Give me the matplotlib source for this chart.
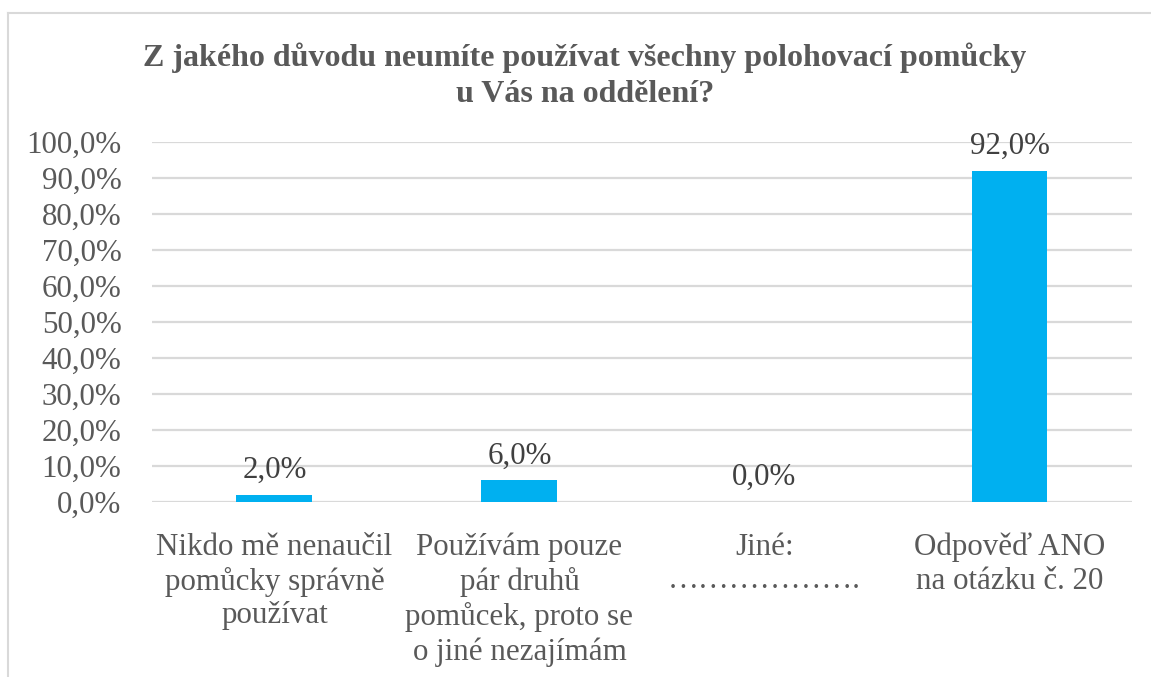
import matplotlib
matplotlib.use("Agg")
import matplotlib.pyplot as plt
from matplotlib.lines import Line2D
import numpy as np

# data
categories = [
    "Nikdo mě nenaučil\npomůcky správně\npoužívat",
    "Používám pouze\npár druhů\npomůcek, proto se\no jiné nezajímám",
    "Jiné:\n……………….",
    "Odpověď ANO\nna otázku č. 20",
]
values = [2.0, 6.0, 0.0, 92.0]
yticks = [0, 10, 20, 30, 40, 50, 60, 70, 80, 90, 100]
title = "Z jakého důvodu neumíte používat všechny polohovací pomůcky\nu Vás na oddělení?"

text_col = "#595959"
bar_col = "#00B0F0"
grid_col = "#D9D9D9"
fs = 22.3

plt.rcParams["font.family"] = ["Liberation Serif", "DejaVu Serif"]

fig = plt.figure(figsize=(11.51, 6.77), dpi=100)
ax = fig.add_axes([0.132, 0.2585, 0.8515, 0.5315])

x = np.arange(len(categories))
ax.bar(x, values, width=0.31, color=bar_col, zorder=3)

for xi, v in zip(x, values):
    ax.annotate(f"{v:.1f}".replace(".", ",") + "%", (xi, v), xytext=(0, 7),
                textcoords="offset points", ha="center", va="bottom",
                fontsize=fs, color="#404040")

ax.set_xlim(-0.5, len(categories) - 0.5)
ax.set_ylim(0, 100)
ax.set_yticks(yticks)
ax.set_yticklabels([f"{t:.1f}".replace(".", ",") + "%" for t in yticks])
ax.set_xticks(x)
ax.set_xticklabels(categories, linespacing=1.22)
ax.tick_params(axis="y", length=0, pad=22, labelsize=fs, labelcolor=text_col)
ax.tick_params(axis="x", length=0, pad=22, labelsize=fs, labelcolor=text_col)
ax.grid(axis="y", color=grid_col, linewidth=1.6, zorder=0)
for s in ax.spines.values():
    s.set_visible(False)

fig.text(0.508, 0.888, title, ha="center", va="center", fontsize=23,
         fontweight="bold", color=text_col, linespacing=1.3)

# chart frame (only top and left edges visible)
fig.add_artist(Line2D([8 / 1151, 1], [1 - 13 / 677, 1 - 13 / 677],
                      transform=fig.transFigure, color=grid_col, linewidth=1.5))
fig.add_artist(Line2D([8 / 1151, 8 / 1151], [0, 1 - 13 / 677],
                      transform=fig.transFigure, color=grid_col, linewidth=1.5))

fig.savefig("out.png", dpi=100)
